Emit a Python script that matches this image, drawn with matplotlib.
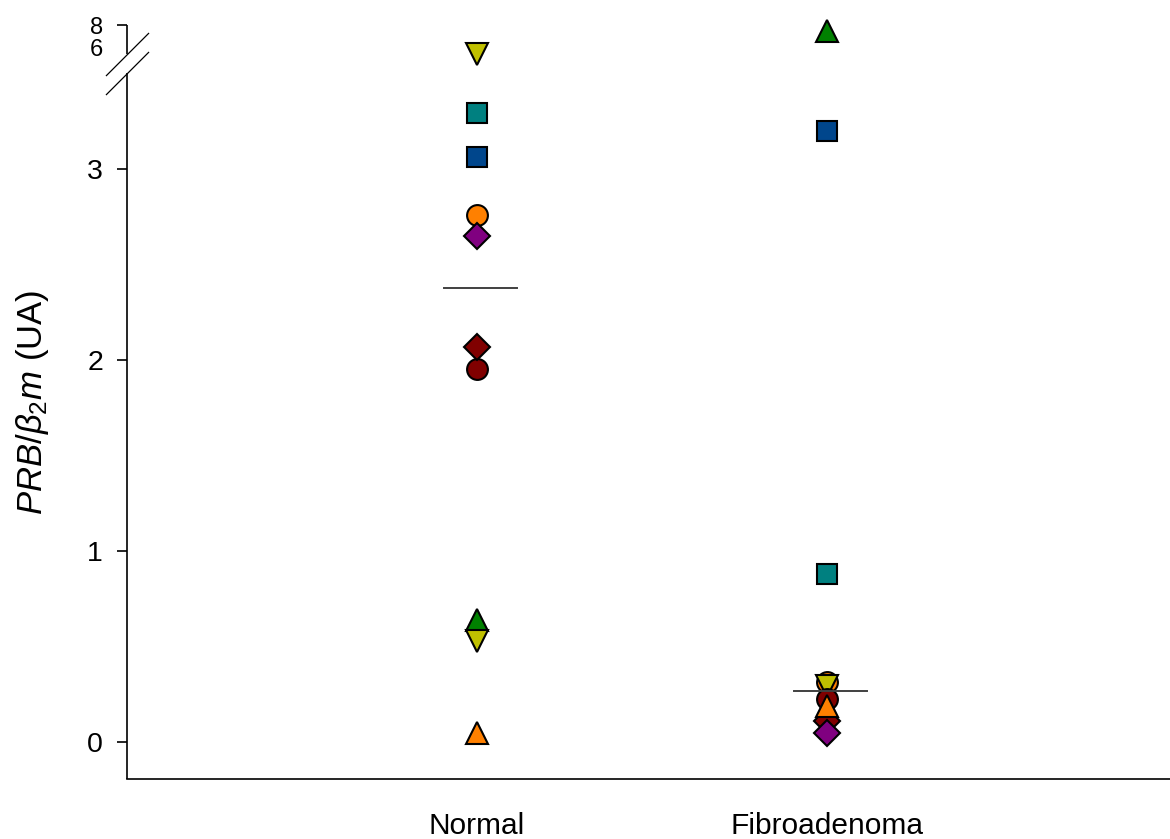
import numpy as np
import matplotlib
matplotlib.use('Agg')
import matplotlib.pyplot as plt

plt.rcParams['font.family'] = ['Liberation Sans', 'DejaVu Sans']
plt.rcParams['mathtext.fontset'] = 'custom'
plt.rcParams['mathtext.rm'] = 'Liberation Sans'
plt.rcParams['mathtext.it'] = 'Liberation Sans:italic'

# PRB/b2m ratio per sample, one entry per marker series
groups = ['Normal', 'Fibroadenoma']
normal = [3.29, 3.06, 0.64, 2.76, 5.5, 0.53, 1.95, 2.07, 0.05, 2.65]
fibroadenoma = [0.88, 3.20, 7.45, 0.315, np.nan, 0.293, 0.225, 0.11, 0.19, 0.047]
medians = [2.375, 0.265]

markers = ['s', 's', '^', 'o', 'v', 'v', 'o', 'D', '^', 'D']
colors = ['#008080', '#00468C', '#008000', '#FF8000', '#C0C000',
          '#C0C000', '#800000', '#800000', '#FF8000', '#800080']
sizes = {'s': 14.2, 'o': 15, '^': 15.5, 'v': 15.5, 'D': 13}

# broken y axis: 0..3.5 at full scale, 5.5..8 compressed on top
y_bottom, lower_top, upper_bottom, y_top = -0.193, 3.5, 5.5, 8.0
px_lower, px_gap, px_upper = 191.3, 19.5, 11.5
v_knots = [-10, y_bottom, lower_top, upper_bottom, y_top, 100]
t0 = (y_bottom + 10) * px_lower
t1 = (lower_top - y_bottom) * px_lower
t2 = t1 + px_gap
t3 = t2 + (y_top - upper_bottom) * px_upper
t_knots = [-t0, 0, t1, t2, t3, t3 + (100 - y_top) * px_upper]


def forward(v):
    return np.interp(v, v_knots, t_knots)


def inverse(t):
    return np.interp(t, t_knots, v_knots)


fig = plt.figure(figsize=(11.7, 8.39), dpi=100)
ax = fig.add_axes([127 / 1170, 60 / 839, 1043 / 1170, 754 / 839])
ax.set_yscale('function', functions=(forward, inverse))
ax.set_ylim(y_bottom, y_top)
ax.set_xlim(0, 2.98)

x = np.arange(1, len(groups) + 1)
for i in range(len(normal)):
    m = markers[i]
    ax.plot(x, [normal[i], fibroadenoma[i]], linestyle='none', marker=m,
            markersize=sizes[m], markerfacecolor=colors[i],
            markeredgecolor='black', markeredgewidth=1.5,
            clip_on=False, zorder=3 + i)

for xi, med in zip(x, medians):
    ax.plot([xi - 0.095, xi + 0.115], [med, med], color='#404040',
            lw=1.4, zorder=30)

# axes frame
for side in ['top', 'right', 'left']:
    ax.spines[side].set_visible(False)
ax.spines['bottom'].set_linewidth(1.2)

ytrans = ax.get_yaxis_transform()
ax.plot([0, 0], [y_bottom, lower_top], transform=ytrans, color='black',
        lw=1.2, clip_on=False, solid_capstyle='butt')
ax.plot([0, 0], [upper_bottom, y_top], transform=ytrans, color='black',
        lw=1.2, clip_on=False, solid_capstyle='butt')
for v in [lower_top, upper_bottom]:
    ax.plot([0], [v], transform=ytrans, marker=[(-1, -1), (1, 1)],
            markersize=31, fillstyle='none', markeredgecolor='black',
            markeredgewidth=0.9, clip_on=False)

yticks = [0, 1, 2, 3, 6, 8]
ax.set_yticks(yticks)
ax.set_yticklabels([str(t) for t in yticks])
ax.yaxis.set_minor_locator(matplotlib.ticker.NullLocator())
ax.tick_params(axis='y', length=7.2, width=1.2, pad=10, labelsize=20.5)
for tick, val in zip(ax.yaxis.get_major_ticks(), yticks):
    if val > lower_top:
        tick.label1.set_fontsize(17)
    if val == 6:
        tick.tick1line.set_visible(False)
        tick.label1.set_verticalalignment('center_baseline')

ax.set_xticks(x)
ax.set_xticklabels(groups)
ax.tick_params(axis='x', length=0, pad=24, labelsize=21.5)

ax.set_ylabel(r'$PRB/\beta_2m$ (UA)', fontsize=25, labelpad=26)

fig.savefig('out.png', dpi=100)
